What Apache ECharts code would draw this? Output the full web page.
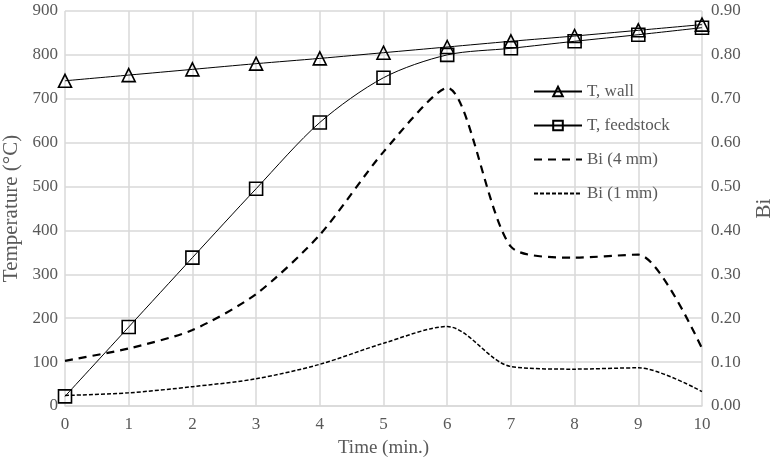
<!DOCTYPE html>
<html>
<head>
<meta charset="utf-8">
<script src="https://cdn.jsdelivr.net/npm/echarts@6/dist/echarts.min.js"></script>
<style>html,body{margin:0;padding:0;background:#fff}#c{width:777px;height:459px}</style>
</head>
<body>
<div id="c"></div>
<script>
const times = [0,1,2,3,4,5,6,7,8,9,10];
const tWall = [741,754,767,780,792,805,818,831,843,856,869];
const tFeed = [22,180,338,495,646,748,800,815,831,846,862];
const bi4 = [0.103,0.131,0.173,0.255,0.39,0.579,0.725,0.363,0.338,0.345,0.131];
const bi1 = [0.024,0.030,0.044,0.062,0.095,0.143,0.181,0.090,0.084,0.087,0.033];
const leftTicks = {min:0,max:900,interval:100};
const rightTicks = {min:0,max:0.9,interval:0.1};

const pairs = (ys) => times.map((t,i)=>[t, ys[i]]);
const font = 'Liberation Serif';
const gray = '#595959';
const grid = '#d9d9d9';

const chart = echarts.init(document.getElementById('c'));
chart.setOption({
  animation:false,
  textStyle:{fontFamily:font},
  grid:{left:65,right:75,top:11,bottom:53,containLabel:false,outerBoundsMode:'none'},
  legend:{
    orient:'vertical', left:528, top:78, itemGap:17, itemWidth:48, itemHeight:12,
    textStyle:{fontFamily:font,fontSize:17,color:gray},
    data:['T, wall','T, feedstock','Bi (4 mm)','Bi (1 mm)']
  },
  xAxis:{
    type:'value', min:0, max:10, interval:1,
    name:'Time (min.)', nameLocation:'middle', nameGap:33,
    nameTextStyle:{fontFamily:font,fontSize:19,color:gray},
    axisLine:{show:true,lineStyle:{color:grid,width:1.5}},
    axisTick:{show:false},
    axisLabel:{fontFamily:font,fontSize:17,color:gray,margin:10},
    splitLine:{show:true,lineStyle:{color:grid,width:1.5}}
  },
  yAxis:[{
    type:'value', min:leftTicks.min, max:leftTicks.max, interval:leftTicks.interval,
    name:'Temperature (°C)', nameLocation:'middle', nameGap:42, nameRotate:90,
    nameTextStyle:{fontFamily:font,fontSize:21,color:gray},
    axisLine:{show:false}, axisTick:{show:false},
    axisLabel:{fontFamily:font,fontSize:17,color:gray,margin:7},
    splitLine:{show:true,lineStyle:{color:grid,width:1.5}}
  },{
    type:'value', min:rightTicks.min, max:rightTicks.max, interval:rightTicks.interval,
    name:'Bi', nameLocation:'middle', nameGap:52, nameRotate:90,
    nameTextStyle:{fontFamily:font,fontSize:21,color:gray},
    axisLine:{show:false}, axisTick:{show:false},
    axisLabel:{fontFamily:font,fontSize:17,color:gray,margin:9,formatter:v=>v.toFixed(2)},
    splitLine:{show:false}
  }],
  series:[
    {name:'T, wall',type:'line',yAxisIndex:0,data:pairs(tWall),smooth:0.3,
     symbol:'triangle',symbolSize:13,
     lineStyle:{color:'#000',width:1},
     itemStyle:{color:'rgba(255,255,255,0)',borderColor:'#000',borderWidth:1.6}},
    {name:'T, feedstock',type:'line',yAxisIndex:0,data:pairs(tFeed),smooth:0.3,
     symbol:'rect',symbolSize:13,
     lineStyle:{color:'#000',width:1},
     itemStyle:{color:'rgba(255,255,255,0)',borderColor:'#000',borderWidth:1.6}},
    {name:'Bi (4 mm)',type:'line',yAxisIndex:1,data:pairs(bi4),smooth:0.25,
     symbol:'none',showSymbol:false,
     lineStyle:{color:'#000',width:2.2,type:[8,6]},
     itemStyle:{color:'rgba(0,0,0,0)',borderColor:'rgba(0,0,0,0)'}},
    {name:'Bi (1 mm)',type:'line',yAxisIndex:1,data:pairs(bi1),smooth:0.3,
     symbol:'none',showSymbol:false,
     lineStyle:{color:'#000',width:1.5,type:[4,2]},
     itemStyle:{color:'rgba(0,0,0,0)',borderColor:'rgba(0,0,0,0)'}}
  ]
});
</script>
</body>
</html>
